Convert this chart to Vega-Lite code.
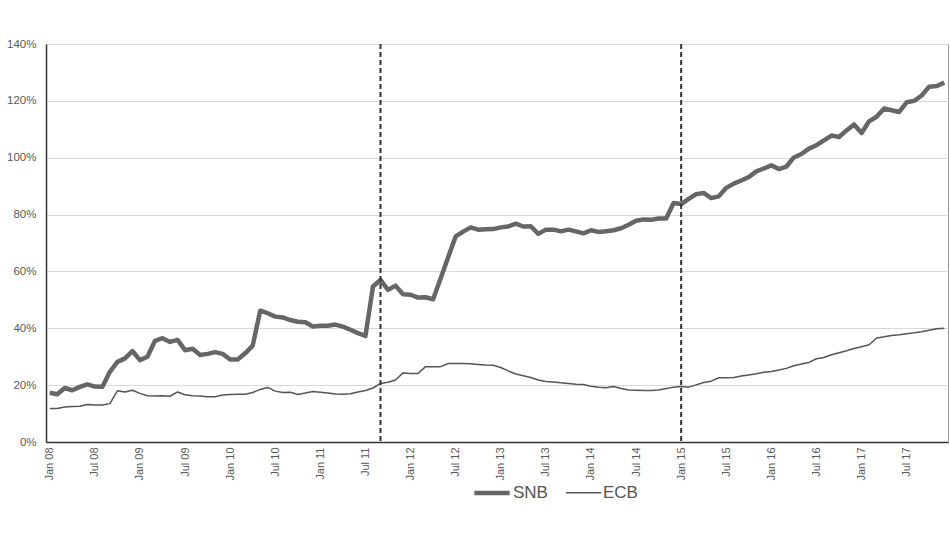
{
  "$schema": "https://vega.github.io/schema/vega-lite/v6.json",
  "autosize": "none",
  "width": 902,
  "height": 398,
  "padding": {"left": 46, "top": 44, "right": 2, "bottom": 100},
  "background": "white",
  "config": {
    "font": "Liberation Sans",
    "view": {"stroke": "#999", "strokeWidth": 1}
  },
  "datasets": {
    "series": [
      {"month":"Jan 08","SNB":17.3,"ECB":11.8},{"month":"Feb 08","SNB":16.8,"ECB":11.8},{"month":"Mar 08","SNB":19.0,"ECB":12.3},{"month":"Apr 08","SNB":18.2,"ECB":12.5},{"month":"May 08","SNB":19.4,"ECB":12.6},{"month":"Jun 08","SNB":20.3,"ECB":13.2},{"month":"Jul 08","SNB":19.5,"ECB":13.0},{"month":"Aug 08","SNB":19.4,"ECB":13.0},{"month":"Sep 08","SNB":24.7,"ECB":13.5},{"month":"Oct 08","SNB":28.2,"ECB":18.0},{"month":"Nov 08","SNB":29.4,"ECB":17.6},{"month":"Dec 08","SNB":32.0,"ECB":18.2},
      {"month":"Jan 09","SNB":28.8,"ECB":17.1},{"month":"Feb 09","SNB":30.0,"ECB":16.3},{"month":"Mar 09","SNB":35.6,"ECB":16.2},{"month":"Apr 09","SNB":36.5,"ECB":16.3},{"month":"May 09","SNB":35.2,"ECB":16.1},{"month":"Jun 09","SNB":35.9,"ECB":17.6},{"month":"Jul 09","SNB":32.3,"ECB":16.6},{"month":"Aug 09","SNB":32.8,"ECB":16.3},{"month":"Sep 09","SNB":30.6,"ECB":16.2},{"month":"Oct 09","SNB":31.0,"ECB":15.9},{"month":"Nov 09","SNB":31.6,"ECB":15.9},{"month":"Dec 09","SNB":31.0,"ECB":16.5},
      {"month":"Jan 10","SNB":29.0,"ECB":16.7},{"month":"Feb 10","SNB":29.0,"ECB":16.8},{"month":"Mar 10","SNB":31.2,"ECB":16.8},{"month":"Apr 10","SNB":33.9,"ECB":17.4},{"month":"May 10","SNB":46.2,"ECB":18.5},{"month":"Jun 10","SNB":45.3,"ECB":19.2},{"month":"Jul 10","SNB":44.1,"ECB":17.9},{"month":"Aug 10","SNB":43.8,"ECB":17.4},{"month":"Sep 10","SNB":42.9,"ECB":17.5},{"month":"Oct 10","SNB":42.3,"ECB":16.7},{"month":"Nov 10","SNB":42.1,"ECB":17.2},{"month":"Dec 10","SNB":40.6,"ECB":17.8},
      {"month":"Jan 11","SNB":40.9,"ECB":17.5},{"month":"Feb 11","SNB":40.9,"ECB":17.2},{"month":"Mar 11","SNB":41.3,"ECB":16.9},{"month":"Apr 11","SNB":40.6,"ECB":16.8},{"month":"May 11","SNB":39.5,"ECB":17.0},{"month":"Jun 11","SNB":38.3,"ECB":17.6},{"month":"Jul 11","SNB":37.3,"ECB":18.1},{"month":"Aug 11","SNB":54.7,"ECB":19.0},{"month":"Sep 11","SNB":57.0,"ECB":20.6},{"month":"Oct 11","SNB":53.5,"ECB":21.0},{"month":"Nov 11","SNB":55.0,"ECB":21.8},{"month":"Dec 11","SNB":52.0,"ECB":24.3},
      {"month":"Jan 12","SNB":51.8,"ECB":24.1},{"month":"Feb 12","SNB":50.8,"ECB":24.1},{"month":"Mar 12","SNB":50.9,"ECB":26.5},{"month":"Apr 12","SNB":50.2,"ECB":26.5},{"month":"May 12","SNB":57.5,"ECB":26.5},{"month":"Jun 12","SNB":65.0,"ECB":27.6},{"month":"Jul 12","SNB":72.3,"ECB":27.6},{"month":"Aug 12","SNB":74.0,"ECB":27.6},{"month":"Sep 12","SNB":75.5,"ECB":27.5},{"month":"Oct 12","SNB":74.7,"ECB":27.3},{"month":"Nov 12","SNB":74.8,"ECB":27.1},{"month":"Dec 12","SNB":74.9,"ECB":27.0},
      {"month":"Jan 13","SNB":75.5,"ECB":26.2},{"month":"Feb 13","SNB":75.8,"ECB":25.0},{"month":"Mar 13","SNB":76.8,"ECB":23.9},{"month":"Apr 13","SNB":75.8,"ECB":23.3},{"month":"May 13","SNB":75.9,"ECB":22.7},{"month":"Jun 13","SNB":73.2,"ECB":21.8},{"month":"Jul 13","SNB":74.7,"ECB":21.3},{"month":"Aug 13","SNB":74.7,"ECB":21.1},{"month":"Sep 13","SNB":74.1,"ECB":20.8},{"month":"Oct 13","SNB":74.7,"ECB":20.6},{"month":"Nov 13","SNB":74.1,"ECB":20.3},{"month":"Dec 13","SNB":73.4,"ECB":20.2},
      {"month":"Jan 14","SNB":74.5,"ECB":19.6},{"month":"Feb 14","SNB":73.9,"ECB":19.3},{"month":"Mar 14","SNB":74.1,"ECB":19.1},{"month":"Apr 14","SNB":74.5,"ECB":19.5},{"month":"May 14","SNB":75.2,"ECB":18.8},{"month":"Jun 14","SNB":76.4,"ECB":18.3},{"month":"Jul 14","SNB":77.8,"ECB":18.2},{"month":"Aug 14","SNB":78.3,"ECB":18.1},{"month":"Sep 14","SNB":78.2,"ECB":18.1},{"month":"Oct 14","SNB":78.6,"ECB":18.3},{"month":"Nov 14","SNB":78.6,"ECB":18.8},{"month":"Dec 14","SNB":84.1,"ECB":19.3},
      {"month":"Jan 15","SNB":83.7,"ECB":19.5},{"month":"Feb 15","SNB":85.5,"ECB":19.3},{"month":"Mar 15","SNB":87.2,"ECB":20.1},{"month":"Apr 15","SNB":87.6,"ECB":20.9},{"month":"May 15","SNB":85.8,"ECB":21.4},{"month":"Jun 15","SNB":86.4,"ECB":22.6},{"month":"Jul 15","SNB":89.4,"ECB":22.6},{"month":"Aug 15","SNB":90.9,"ECB":22.7},{"month":"Sep 15","SNB":92.0,"ECB":23.2},{"month":"Oct 15","SNB":93.2,"ECB":23.6},{"month":"Nov 15","SNB":95.2,"ECB":24.0},{"month":"Dec 15","SNB":96.2,"ECB":24.5},
      {"month":"Jan 16","SNB":97.3,"ECB":24.8},{"month":"Feb 16","SNB":96.0,"ECB":25.3},{"month":"Mar 16","SNB":96.9,"ECB":25.9},{"month":"Apr 16","SNB":100.1,"ECB":26.8},{"month":"May 16","SNB":101.3,"ECB":27.4},{"month":"Jun 16","SNB":103.2,"ECB":28.0},{"month":"Jul 16","SNB":104.4,"ECB":29.3},{"month":"Aug 16","SNB":106.1,"ECB":29.7},{"month":"Sep 16","SNB":107.8,"ECB":30.7},{"month":"Oct 16","SNB":107.3,"ECB":31.4},{"month":"Nov 16","SNB":109.6,"ECB":32.1},{"month":"Dec 16","SNB":111.7,"ECB":32.9},
      {"month":"Jan 17","SNB":108.7,"ECB":33.5},{"month":"Feb 17","SNB":112.8,"ECB":34.2},{"month":"Mar 17","SNB":114.4,"ECB":36.6},{"month":"Apr 17","SNB":117.3,"ECB":37.0},{"month":"May 17","SNB":116.7,"ECB":37.5},{"month":"Jun 17","SNB":116.1,"ECB":37.7},{"month":"Jul 17","SNB":119.5,"ECB":38.1},{"month":"Aug 17","SNB":120.0,"ECB":38.4},{"month":"Sep 17","SNB":121.9,"ECB":38.8},{"month":"Oct 17","SNB":125.0,"ECB":39.3},{"month":"Nov 17","SNB":125.2,"ECB":39.8},{"month":"Dec 17","SNB":126.4,"ECB":40.0}
    ],
    "events": [{"month":"Sep 11"},{"month":"Jan 15"}]
  },
  "layer": [
    {
      "data": {"name": "series"},
      "transform": [{"fold": ["SNB", "ECB"], "as": ["bank", "value"]}],
      "mark": {"type": "line", "strokeJoin": "round", "strokeCap": "butt"},
      "encoding": {
        "x": {
          "field": "month", "type": "ordinal", "sort": null,
          "scale": {"type": "point", "padding": 0.5},
          "axis": {
            "title": null, "labelAngle": -90, "ticks": false, "grid": false,
            "labelOverlap": false, "labelPadding": 5, "labelFontSize": 11,
            "labelColor": "#595959", "domainColor": "#333", "domainWidth": 1.5,
            "labelExpr": "(slice(datum.label,0,3) == 'Jan' || slice(datum.label,0,3) == 'Jul') ? datum.label : ''"
          }
        },
        "y": {
          "field": "value", "type": "quantitative",
          "scale": {"domain": [0, 140], "nice": false},
          "axis": {
            "title": null, "values": [0,20,40,60,80,100,120,140], "ticks": false,
            "labelPadding": 10, "labelFontSize": 11.5, "labelColor": "#595959",
            "gridColor": "#d9d9d9", "gridWidth": 1, "domainColor": "#333", "domainWidth": 1.5,
            "labelExpr": "datum.value + '%'"
          }
        },
        "color": {
          "field": "bank", "type": "nominal",
          "scale": {"domain": ["SNB", "ECB"], "range": ["#666666", "#555555"]},
          "legend": {
            "title": null, "orient": "none", "legendX": 426, "legendY": 429, "direction": "horizontal",
            "symbolType": "stroke", "symbolSize": 1250, "labelFontSize": 17,
            "labelColor": "#555", "columnPadding": 14, "labelOffset": 1
          }
        },
        "strokeWidth": {
          "field": "bank", "type": "nominal",
          "scale": {"domain": ["SNB", "ECB"], "range": [4.5, 1.5]},
          "legend": {
            "title": null, "orient": "none", "legendX": 426, "legendY": 429, "direction": "horizontal",
            "symbolType": "stroke", "symbolSize": 1250, "labelFontSize": 17,
            "labelColor": "#555", "columnPadding": 14, "labelOffset": 1
          }
        }
      }
    },
    {
      "data": {"name": "events"},
      "mark": {"type": "rule", "color": "#333", "strokeWidth": 2, "strokeDash": [5, 3]},
      "encoding": {
        "x": {"field": "month", "type": "ordinal", "sort": null}
      }
    }
  ]
}
